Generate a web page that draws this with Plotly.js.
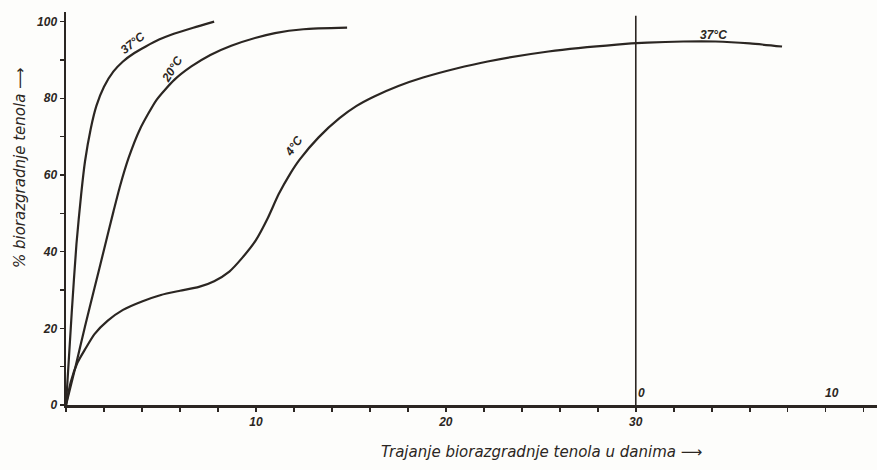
<!DOCTYPE html>
<html>
<head>
<meta charset="utf-8">
<script src="https://cdn.plot.ly/plotly-3.0.1.min.js"></script>
<style>html,body{margin:0;padding:0;background:#fdfdfb;}#chart{width:877px;height:470px;}</style>
</head>
<body>
<div id="chart"></div>
<script>
// 37°C series
const days37 = [0, 0.3, 0.55, 0.8, 1.0, 1.3, 1.6, 2.0, 2.5, 3.0, 3.6, 4.2, 4.9, 5.5, 6.7, 7.8];
const pct37  = [0, 24, 42, 55, 63.5, 72, 78, 83, 87, 89.6, 91.8, 93.5, 95.3, 96.5, 98.4, 100];
// 20°C series
const days20 = [0, 0.5, 1.0, 1.5, 2.0, 2.5, 2.85, 3.3, 3.9, 4.77, 5.7, 6.6, 7.6, 8.7, 10, 11, 12.5, 14.8];
const pct20  = [0, 10, 20.5, 30.5, 40.5, 50.5, 57.2, 64.5, 72, 79.6, 84.8, 88.3, 91.3, 93.7, 95.8, 97, 98, 98.4];
// 4°C series (after day 30 continued at 37°C)
const days4 = [0, 0.25, 0.6, 1.0, 1.5, 2.2, 3.0, 4.0, 5.0, 6.0, 7.0, 7.8, 8.6, 9.3, 10.0, 10.6, 11.2, 11.8, 12.3, 13.3, 14.4, 15.3, 16.2, 17.5, 18.8, 20.5, 22.2, 25.4, 29, 30.6, 32.5, 34.2, 36, 37.7];
const pct4  = [0, 6, 11, 14.5, 18.5, 22, 24.8, 27, 28.7, 29.8, 30.8, 32.3, 34.8, 38.5, 43, 48.5, 55, 60.3, 64, 69.8, 74.8, 78, 80.4, 83.2, 85.4, 87.7, 89.6, 92.2, 94, 94.5, 94.8, 94.8, 94.3, 93.5];

// axis ticks
const xTickVals = [0,2,4,6,8,10,12,14,16,18,20,22,24,26,28,30,32,34,36,38,40,42];
const xLabelled = [10, 20, 30];
const yTickVals = [0,10,20,30,40,50,60,70,80,90,100];
const yLabelled = [0,20,40,60,80,100];
// second time scale starting at day 30
const switchDay = 30;
const secondScaleLabels = [0, 10];

// curve labels
const curveLabels = ['37°C', '20°C', '4°C', '37°C'];
const labelDays   = [3.5, 5.6, 12.0, 34.1];
const labelPct    = [94.5, 87.6, 67.5, 96.5];
const labelAngles = [-38, -58, -55, 0];

const ink = '#2b2622';
const lineStyle = {color: ink, width: 2.2, shape: 'spline', smoothing: 0.6};
const traces = [
  {x: days37, y: pct37, mode: 'lines', line: lineStyle, name: '37°C', hoverinfo: 'skip'},
  {x: days20, y: pct20, mode: 'lines', line: lineStyle, name: '20°C', hoverinfo: 'skip'},
  {x: days4,  y: pct4,  mode: 'lines', line: lineStyle, name: '4°C',  hoverinfo: 'skip'}
];

const labelFont = {family: 'Liberation Sans Narrow, Liberation Sans, Arial, sans-serif', size: 12, color: ink, style: 'italic', weight: 700};
const titleFont = {family: 'DejaVu Sans, Liberation Sans, sans-serif', color: ink, style: 'italic'};

const annotations = [];
curveLabels.forEach((t, i) => annotations.push({
  x: labelDays[i], y: labelPct[i], xref: 'x', yref: 'y', text: t, showarrow: false,
  textangle: labelAngles[i], font: labelFont
}));
secondScaleLabels.forEach(v => annotations.push({
  x: switchDay + v, y: 0, xref: 'x', yref: 'y', text: String(v), showarrow: false,
  xshift: 6, yshift: 12, font: labelFont
}));
annotations.push({
  xref: 'paper', yref: 'paper', x: 0.586, y: 0, yshift: -47, xanchor: 'center', yanchor: 'middle',
  text: 'Trajanje biorazgradnje tenola u danima ⟶', showarrow: false,
  font: Object.assign({size: 15}, titleFont)
});
annotations.push({
  xref: 'paper', yref: 'paper', x: 0, xshift: -46, y: 0.603, xanchor: 'center', yanchor: 'middle',
  text: '% biorazgradnje tenola ⟶', textangle: -90, showarrow: false,
  font: Object.assign({size: 15}, titleFont)
});

const layout = {
  width: 877, height: 470,
  margin: {l: 66, r: 0, t: 12, b: 65},
  paper_bgcolor: '#fdfdfb', plot_bgcolor: '#fdfdfb',
  showlegend: false,
  xaxis: {
    range: [0, 42.7], showgrid: false, zeroline: false,
    showline: true, linecolor: ink, linewidth: 2.5,
    tickmode: 'array', tickvals: xTickVals,
    ticktext: xTickVals.map(v => xLabelled.includes(v) ? String(v) : ''),
    ticks: 'outside', ticklen: 4, tickwidth: 1.5, tickcolor: ink,
    tickfont: labelFont
  },
  yaxis: {
    range: [0, 102.5], showgrid: false, zeroline: false,
    showline: true, linecolor: ink, linewidth: 2.5,
    tickmode: 'array', tickvals: yTickVals,
    ticktext: yTickVals.map(v => yLabelled.includes(v) ? String(v) : ''),
    ticks: 'outside', ticklen: 4, tickwidth: 1.5, tickcolor: ink,
    tickfont: labelFont
  },
  shapes: [{
    type: 'line', xref: 'x', yref: 'y', x0: switchDay, x1: switchDay, y0: 0, y1: 101.5,
    line: {color: ink, width: 1.6}
  }],
  annotations: annotations
};

Plotly.newPlot('chart', traces, layout, {displayModeBar: false, staticPlot: true});
</script>
</body>
</html>
